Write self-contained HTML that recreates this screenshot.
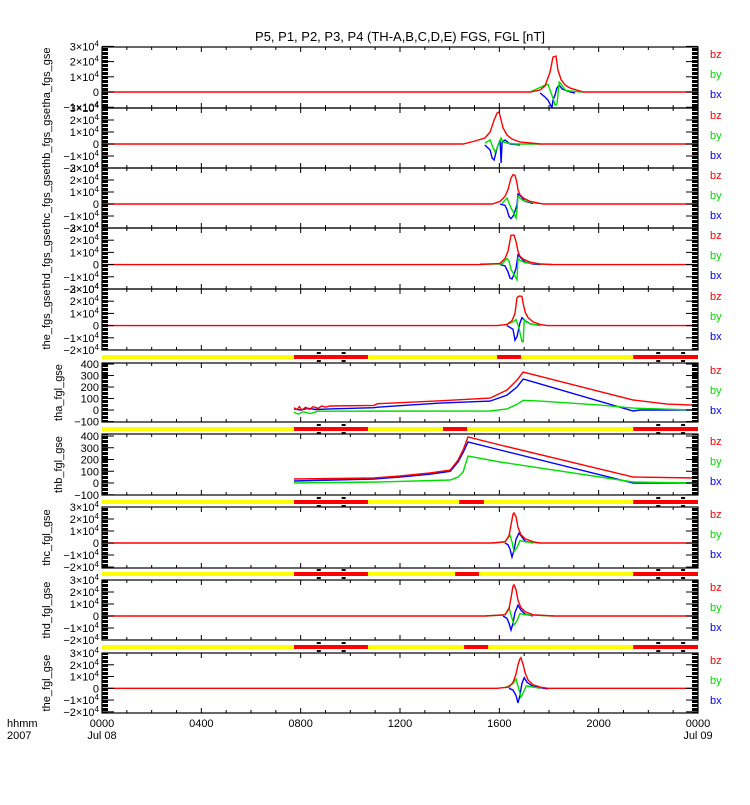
<!DOCTYPE html>
<html><head><meta charset="utf-8"><style>
html,body{margin:0;padding:0;background:#fff}
svg text{font-family:"Liberation Sans",sans-serif}
</style></head><body>
<svg id="c" width="750" height="800" xmlns="http://www.w3.org/2000/svg">
<rect width="750" height="800" fill="#fff"/>
<text x="400" y="41" font-size="13" text-anchor="middle">P5, P1, P2, P3, P4 (TH-A,B,C,D,E) FGS, FGL [nT]</text>
<text x="7" y="727" font-size="11">hhmm</text>
<text x="7" y="739" font-size="11">2007</text>
</svg>
<script>
const xTicks=[0,4,8,12,16,20,24];
const xTickLabels=["0000","0400","0800","1200","1600","2000","0000"];
const xDateLabels={0:"Jul 08",24:"Jul 09"};
const e4Ticks=[3,2,1,0,-1,-2];
const nTTicks=[400,300,200,100,0,-100];

const thaFgsBz=[[0,0],[17.24,0],[17.64,0.13],[17.84,0.4],[18.04,1.3],[18.16,2.3],[18.28,2.37],[18.36,1.45],[18.49,0.8],[18.65,0.46],[18.85,0.26],[19.25,0.07],[19.37,0],[24,0]];
const thaFgsBy=[[17.24,0],[17.84,0.45],[17.96,0.5],[18.04,0.13],[18.16,-0.4],[18.24,-0.85],[18.32,-0.8],[18.36,-0.2],[18.41,0.65],[18.49,0.52],[18.65,0.13],[18.85,0.07],[19.33,0]];
const thaFgsBx=[[17.64,-0.07],[17.84,-0.33],[17.96,-0.53],[18.08,-0.92],[18.12,-1.0],[18.16,-0.53],[18.24,-0.2],[18.32,0.26],[18.41,0.46],[18.53,0.2],[18.85,0],[19.05,-0.07]];

const thbFgsBz=[[0,0],[14.54,0],[15.02,0.25],[15.42,0.5],[15.63,1.0],[15.79,2.0],[15.91,2.58],[15.99,2.67],[16.07,2.0],[16.15,1.33],[16.31,0.75],[16.51,0.42],[16.83,0.17],[17.64,0],[24,0]];
const thbFgsBy=[[15.42,0.08],[15.63,0.33],[15.75,-0.33],[15.83,-0.67],[15.91,-0.33],[15.99,0.08],[16.07,0.5],[16.15,0.17],[16.31,0.08],[16.63,0],[17.64,0]];
const thbFgsBx=[[15.42,-0.08],[15.63,-0.5],[15.71,-1.17],[15.79,-1.33],[15.87,-0.67],[15.91,-0.33],[16.03,0.33],[16.07,-1.58],[16.11,0.17],[16.23,0.33],[16.43,0],[16.83,-0.08]];

const thcFgsBz=[[0,0],[15.71,0],[16.03,0.22],[16.23,0.64],[16.35,1.19],[16.47,2.17],[16.55,2.44],[16.63,2.39],[16.71,1.75],[16.75,1.19],[16.83,0.78],[16.96,0.5],[17.24,0.22],[17.64,0.05],[17.8,0],[24,0]];
const thcFgsBy=[[16.11,0.05],[16.31,0.5],[16.39,0.08],[16.47,-0.33],[16.55,-0.61],[16.67,-1.17],[16.71,-0.47],[16.75,0.64],[16.83,0.5],[16.96,0.28],[17.24,0.17],[17.64,0.03]];
const thcFgsBx=[[16.03,0],[16.23,-0.11],[16.31,-0.47],[16.39,-1.03],[16.47,-1.22],[16.55,-1.03],[16.63,-0.61],[16.71,-0.05],[16.75,0.83],[16.87,0.64],[17.04,0.22],[17.36,0.05]];

const thdFgsBz=[[0,0],[15.22,0],[16.03,0.1],[16.23,0.5],[16.35,1.1],[16.47,2.4],[16.59,2.42],[16.67,1.9],[16.75,1.1],[16.83,0.7],[16.96,0.45],[17.24,0.2],[17.64,0.05],[18.16,0],[24,0]];
const thdFgsBy=[[15.22,0.05],[16.11,0.05],[16.31,0.5],[16.39,0.3],[16.47,-0.4],[16.59,-0.8],[16.71,-1.25],[16.75,0.5],[16.83,0.35],[17.04,0.15],[17.64,0.05],[18.16,0]];
const thdFgsBx=[[16.03,0],[16.23,-0.1],[16.35,-0.6],[16.43,-1.1],[16.51,-1.17],[16.59,-0.8],[16.67,-0.3],[16.75,0.8],[16.87,0.55],[17.04,0.2],[17.36,0.05],[17.64,0]];

const theFgsBz=[[0,0],[15.91,0],[16.31,0.1],[16.51,0.4],[16.63,1.0],[16.71,2.3],[16.79,2.42],[16.91,2.4],[16.96,1.8],[17.04,1.1],[17.16,0.65],[17.36,0.3],[17.64,0.1],[17.92,0],[24,0]];
const theFgsBy=[[16.23,0.05],[16.55,0.3],[16.67,0.5],[16.79,-0.2],[16.91,-1.3],[16.96,-1.33],[17.0,0.5],[17.08,0.3],[17.24,0.15],[17.64,0]];
const theFgsBx=[[16.31,0],[16.55,-0.3],[16.63,-1.2],[16.71,-0.9],[16.83,0.2],[16.91,0.65],[17.04,0.4],[17.24,0.15],[17.64,0]];

const thaFglBz=[[7.73,20],[7.85,5],[7.95,30],[8.05,0],[8.2,25],[8.35,5],[8.5,30],[8.7,15],[8.85,35],[9.0,25],[9.18,35],[10.95,40],[11.1,55],[13.61,80],[15.63,104],[16.31,174],[16.71,260],[16.96,330],[21.39,87],[22.75,52],[23.8,43],[24,43]];
const thaFglBy=[[7.73,-20],[7.9,-35],[8.1,-15],[8.4,-30],[8.7,-10],[9.18,-10],[15.63,-8],[16.31,10],[16.71,50],[16.96,85],[17.64,78],[20.06,43],[21.39,17],[23.8,0],[24,0]];
const thaFglBx=[[7.73,10],[8.0,0],[8.3,15],[8.6,5],[9.18,10],[10.95,20],[11.1,25],[13.61,60],[15.63,78],[16.31,130],[16.71,200],[16.96,270],[21.39,-8],[21.67,0],[24,0]];

const thbFglBz=[[7.73,34],[10.95,43],[12.0,60],[13.21,85],[14.02,110],[14.34,196],[14.54,281],[14.74,392],[16.03,323],[21.39,51],[24,43]];
const thbFglBy=[[7.73,0],[11.2,9],[14.02,26],[14.34,51],[14.54,94],[14.74,230],[16.03,179],[21.39,9],[24,0]];
const thbFglBx=[[7.73,17],[10.95,34],[12.0,51],[13.21,75],[14.02,100],[14.34,180],[14.54,260],[14.74,349],[16.03,281],[21.39,0],[24,0]];

const thcFglBz=[[0,0],[15.71,0],[16.23,0.1],[16.39,0.6],[16.47,1.5],[16.55,2.4],[16.59,2.5],[16.67,2.2],[16.75,1.3],[16.87,0.7],[17.04,0.35],[17.36,0.1],[17.64,0],[24,0]];
const thcFglBy=[[15.75,0],[16.23,0.1],[16.43,0.64],[16.51,0.1],[16.59,-0.7],[16.71,-0.4],[16.83,0.2],[17.04,0.1],[17.64,0]];
const thcFglBx=[[16.23,0],[16.35,-0.15],[16.43,-0.5],[16.51,-1.17],[16.59,-0.6],[16.67,0.3],[16.79,0.83],[16.91,0.5],[17.04,0.15],[17.36,0]];

const thdFglBz=[[0,0],[15.42,0],[16.23,0.1],[16.39,0.6],[16.47,1.5],[16.55,2.5],[16.59,2.6],[16.67,2.2],[16.75,1.3],[16.87,0.7],[17.04,0.35],[17.36,0.1],[18.2,0],[24,0]];
const thdFglBy=[[15.42,0],[16.23,0.1],[16.39,0.7],[16.47,0.1],[16.59,-0.75],[16.71,-0.4],[16.83,0.2],[17.04,0.1],[18.2,0]];
const thdFglBx=[[16.15,0],[16.31,-0.2],[16.39,-0.6],[16.47,-1.17],[16.55,-0.6],[16.63,0.3],[16.75,0.9],[16.87,0.5],[17.04,0.15],[17.36,0]];

const theFglBz=[[0,0],[15.91,0],[16.39,0.1],[16.55,0.5],[16.67,1.2],[16.75,2.0],[16.83,2.5],[16.87,2.6],[16.96,2.0],[17.04,1.3],[17.16,0.7],[17.36,0.3],[17.64,0.1],[17.95,0],[24,0]];
const theFglBy=[[16.23,0.05],[16.55,0.4],[16.67,0.8],[16.75,0.2],[16.87,-0.75],[16.96,-0.4],[17.08,0.2],[17.36,0.1],[17.64,0]];
const theFglBx=[[16.39,0],[16.55,-0.15],[16.67,-0.6],[16.75,-1.25],[16.83,-0.6],[16.91,0.4],[17.0,0.9],[17.12,0.5],[17.36,0.15],[17.95,-0.05]];

const barRedSegments=[
 [[7.73,10.71],[15.91,16.87],[21.39,24]],
 [[7.73,10.71],[13.73,14.70],[21.39,24]],
 [[7.73,10.71],[14.38,15.38],[21.39,24]],
 [[7.73,10.71],[14.22,15.18],[21.39,24]],
 [[7.73,10.71],[14.58,15.55],[21.39,24]]];
const barMarks=[8.73,9.73,22.4,23.4];

const NS="http://www.w3.org/2000/svg";
const svg=document.getElementById('c');
const X0=102,X1=698;
function xs(t){return X0+(X1-X0)*t/24;}
function mk(tag,attrs,parent){const e=document.createElementNS(NS,tag);for(const k in attrs)e.setAttribute(k,attrs[k]);(parent||svg).appendChild(e);return e;}

const panels=[
 {name:"tha_fgs_gse",top:47,bot:108,min:-1.05,max:2.96,ticks:[3,2,1,0,-1],e4:true,tx:46,d:[thaFgsBx,thaFgsBy,thaFgsBz]},
 {name:"thb_fgs_gse",top:108,bot:168,min:-2,max:3,ticks:e4Ticks,e4:true,tx:46,d:[thbFgsBx,thbFgsBy,thbFgsBz]},
 {name:"thc_fgs_gse",top:168,bot:228,min:-2,max:3,ticks:e4Ticks,e4:true,tx:46,d:[thcFgsBx,thcFgsBy,thcFgsBz]},
 {name:"thd_fgs_gse",top:228,bot:289,min:-2,max:3,ticks:e4Ticks,e4:true,tx:46,d:[thdFgsBx,thdFgsBy,thdFgsBz]},
 {name:"the_fgs_gse",top:289,bot:350,min:-2,max:3,ticks:e4Ticks,e4:true,tx:46,d:[theFgsBx,theFgsBy,theFgsBz]},
 {name:"tha_fgl_gse",top:363,bot:422,min:-104,max:409,ticks:nTTicks,e4:false,tx:58,d:[thaFglBx,thaFglBy,thaFglBz]},
 {name:"thb_fgl_gse",top:434,bot:495,min:-102,max:417,ticks:nTTicks,e4:false,tx:58,d:[thbFglBx,thbFglBy,thbFglBz]},
 {name:"thc_fgl_gse",top:507,bot:568,min:-2.08,max:3,ticks:e4Ticks,e4:true,tx:46,d:[thcFglBx,thcFglBy,thcFglBz]},
 {name:"thd_fgl_gse",top:580,bot:640,min:-2,max:3,ticks:e4Ticks,e4:true,tx:46,d:[thdFglBx,thdFglBy,thdFglBz]},
 {name:"the_fgl_gse",top:653,bot:713,min:-2.1,max:3,ticks:e4Ticks,e4:true,tx:46,d:[theFglBx,theFglBy,theFglBz]}];
const bars=[355,427,500,572,645];
const colors=["#0000ff","#00dd00","#ff0000"];
const names=["bx","by","bz"];

const defs=mk('defs',{});
const pat=mk('pattern',{id:'mt',width:6,height:4,patternUnits:'userSpaceOnUse'},defs);
mk('rect',{x:0,y:0,width:6,height:3,fill:'#000'},pat);

panels.forEach((p,pi)=>{
  const g=mk('g',{});
  
  
  const ys=v=>p.bot-(p.bot-p.top)*(v-p.min)/(p.max-p.min);
  const cp=mk('clipPath',{id:'cp'+pi},defs);
  mk('rect',{x:X0,y:p.top,width:X1-X0,height:p.bot-p.top},cp);
  p.d.forEach((arr,si)=>{
    const pts=arr.map(a=>xs(a[0]).toFixed(1)+","+ys(a[1]).toFixed(1)).join(" ");
    const l=mk('polyline',{points:pts,fill:'none',stroke:colors[si],'stroke-width':1.4,'clip-path':'url(#cp'+pi+')'},g);
    
    
  });
  mk('rect',{x:X0,y:p.top,width:6,height:p.bot-p.top,fill:'url(#mt)'},g);
  mk('rect',{x:X1-6,y:p.top,width:6,height:p.bot-p.top,fill:'url(#mt)'},g);
  mk('rect',{x:X0,y:p.top,width:X1-X0,height:p.bot-p.top,fill:'none',stroke:'#000','stroke-width':1.2},g);
  for(let h=1;h<24;h++){
    const len=h%4===0?5:3;
    mk('line',{x1:xs(h),x2:xs(h),y1:p.top,y2:p.top+len,stroke:'#000'},g);
    mk('line',{x1:xs(h),x2:xs(h),y1:p.bot,y2:p.bot-len,stroke:'#000'},g);
  }
  p.ticks.forEach(v=>{
    const y=ys(v);
    if(y<p.top-2||y>p.bot+2)return;
    mk('line',{x1:X0,x2:X0+12,y1:y,y2:y,stroke:'#000'},g);
    mk('line',{x1:X1-12,x2:X1,y1:y,y2:y,stroke:'#000'},g);
    const t=mk('text',{x:99,y:y+4,'font-size':11,'text-anchor':'end'},g);
    
    
    if(p.e4&&v!==0){
      t.textContent=(v<0?"\u2212":"")+Math.abs(v)+"\u00d710";
      const s=mk('tspan',{'font-size':8,dy:-4},t);s.textContent="4";
    } else t.textContent=v<0?"\u2212"+Math.abs(v):String(v);
  });
  const cy=(p.top+p.bot)/2;
  const tt=mk('text',{x:p.tx,y:cy,'font-size':11,'text-anchor':'middle',transform:`rotate(-90 ${p.tx} ${cy})`,dy:4},g);
  
  
  tt.textContent=p.name;
  ["bz","by","bx"].forEach((n,i)=>{
    const lt=mk('text',{x:710,y:p.top+11+i*20,'font-size':11,fill:colors[2-i]},g);
    
    
    lt.textContent=n;
  });
});

bars.forEach((y,bi)=>{
  const g=mk('g',{});
  
  
  mk('rect',{x:X0,y:y,width:X1-X0,height:4,fill:'#ffff00'},g);
  barRedSegments[bi].forEach(s=>{
    const r=mk('rect',{x:xs(s[0]),y:y,width:xs(s[1])-xs(s[0]),height:4,fill:'#ff0000'},g);
    
    
  });
  barMarks.forEach(t=>{
    mk('rect',{x:xs(t)-2,y:y+5,width:4,height:2,fill:'#000'},g);
    mk('rect',{x:xs(t)-2,y:y-3,width:4,height:2,fill:'#000'},g);
  });
});

xTicks.forEach((h,i)=>{
  const t=mk('text',{x:xs(h),y:727,'font-size':11,'text-anchor':'middle'});
  
  
  t.textContent=xTickLabels[i];
  if(xDateLabels[h]){
    const d=mk('text',{x:xs(h),y:739,'font-size':11,'text-anchor':'middle'});
    
    
    d.textContent=xDateLabels[h];
  }
});
</script>
</body></html>
